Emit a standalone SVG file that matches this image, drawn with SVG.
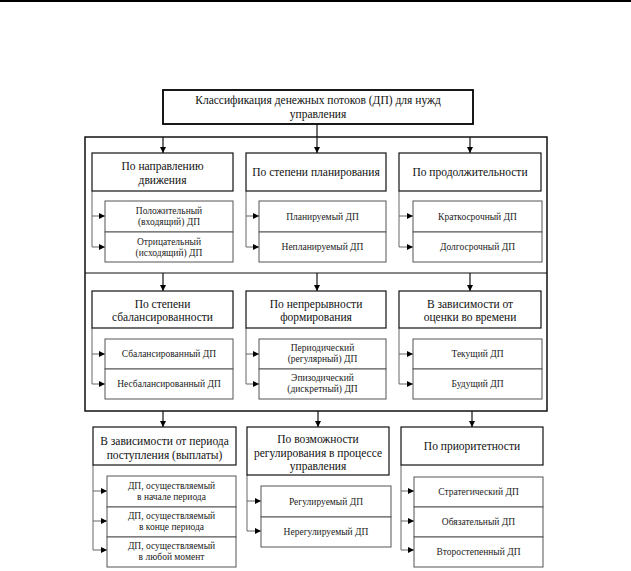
<svg xmlns="http://www.w3.org/2000/svg" width="631" height="571" viewBox="0 0 631 571" font-family="'Liberation Serif', 'Times New Roman', 'DejaVu Serif', serif">
<defs>
<marker id="ah" viewBox="0 0 6 6" refX="6" refY="3" markerWidth="6" markerHeight="6" markerUnits="userSpaceOnUse" orient="auto">
<path d="M0,0 L6,3 L0,6 Z" fill="#000"/>
</marker>
</defs>
<style>
.main{fill:#fff;stroke:#111;stroke-width:1.2}
.sub{fill:#fff;stroke:#555;stroke-width:1}
.frame{fill:none;stroke:#111;stroke-width:1.5}
.bus{fill:none;stroke:#111;stroke-width:1.2}
.br{fill:none;stroke:#666;stroke-width:1}
text{font-family:'Liberation Serif','Times New Roman',serif}
.t{fill:#111;text-anchor:middle}
.tm{font-size:11.5px}
.ts{font-size:9.5px;fill:#222}
.tt{font-size:11.5px}
</style>
<rect width="631" height="571" fill="#fff"/>
<line x1="0" y1="1" x2="631" y2="1" stroke="#000" stroke-width="2"/>

<g id="title">
<rect x="163" y="90" width="310" height="34" fill="#fff" stroke="#000" stroke-width="1.8"/>
<text class="t tt" x="318" y="104">Классификация денежных потоков (ДП) для нужд</text>
<text class="t tt" x="318" y="118">управления</text>
</g>

<g id="connectors">
<rect class="frame" x="85" y="137" width="462" height="274"/>
<line class="bus" x1="85" y1="273" x2="547" y2="273"/>
<line class="bus" x1="317" y1="124" x2="317" y2="137"/>
<line class="bus" x1="163" y1="137" x2="163" y2="153" marker-end="url(#ah)"/>
<line class="bus" x1="317" y1="137" x2="317" y2="153" marker-end="url(#ah)"/>
<line class="bus" x1="470" y1="137" x2="470" y2="153" marker-end="url(#ah)"/>
<line class="bus" x1="163" y1="273" x2="163" y2="291" marker-end="url(#ah)"/>
<line class="bus" x1="317" y1="273" x2="317" y2="291" marker-end="url(#ah)"/>
<line class="bus" x1="470" y1="273" x2="470" y2="291" marker-end="url(#ah)"/>
<line class="bus" x1="163" y1="411" x2="163" y2="427" marker-end="url(#ah)"/>
<line class="bus" x1="318" y1="411" x2="318" y2="427" marker-end="url(#ah)"/>
<line class="bus" x1="472" y1="411" x2="472" y2="427" marker-end="url(#ah)"/>
<path class="br" d="M92,191 V247 H105" marker-end="url(#ah)"/>
<path class="br" d="M92,216 H105" marker-end="url(#ah)"/>
<path class="br" d="M246,191 V247 H259" marker-end="url(#ah)"/>
<path class="br" d="M246,216 H259" marker-end="url(#ah)"/>
<path class="br" d="M399,191 V247 H413" marker-end="url(#ah)"/>
<path class="br" d="M399,216 H413" marker-end="url(#ah)"/>
<path class="br" d="M92,328 V384 H105" marker-end="url(#ah)"/>
<path class="br" d="M92,354 H105" marker-end="url(#ah)"/>
<path class="br" d="M246,328 V384 H259" marker-end="url(#ah)"/>
<path class="br" d="M246,354 H259" marker-end="url(#ah)"/>
<path class="br" d="M399,328 V384 H413" marker-end="url(#ah)"/>
<path class="br" d="M399,354 H413" marker-end="url(#ah)"/>
<path class="br" d="M93,465 V550 H107" marker-end="url(#ah)"/>
<path class="br" d="M93,491 H107" marker-end="url(#ah)"/>
<path class="br" d="M93,521 H107" marker-end="url(#ah)"/>
<path class="br" d="M247,475 V531 H261" marker-end="url(#ah)"/>
<path class="br" d="M247,501 H261" marker-end="url(#ah)"/>
<path class="br" d="M401,465 V550 H414" marker-end="url(#ah)"/>
<path class="br" d="M401,491 H414" marker-end="url(#ah)"/>
<path class="br" d="M401,521 H414" marker-end="url(#ah)"/>
</g>

<g id="n-direction">
<rect class="main" x="92" y="153" width="141" height="38"/>
<text class="t tm" x="162.5" y="170">По направлению</text>
<text class="t tm" x="162.5" y="184">движения</text>
</g>
<g id="n-positive">
<rect class="sub" x="105" y="201" width="128" height="31"/>
<text class="t ts" x="169" y="214">Положительный</text>
<text class="t ts" x="169" y="225">(входящий) ДП</text>
</g>
<g id="n-negative">
<rect class="sub" x="105" y="232" width="128" height="30"/>
<text class="t ts" x="169" y="244.5">Отрицательный</text>
<text class="t ts" x="169" y="255.5">(исходящий) ДП</text>
</g>
<g id="n-planning">
<rect class="main" x="246" y="153" width="140" height="38"/>
<text class="t tm" x="316" y="176">По степени планирования</text>
</g>
<g id="n-planned">
<rect class="sub" x="259" y="201" width="127" height="31"/>
<text class="t ts" x="322.5" y="219.5">Планируемый ДП</text>
</g>
<g id="n-unplanned">
<rect class="sub" x="259" y="232" width="127" height="30"/>
<text class="t ts" x="322.5" y="250">Непланируемый ДП</text>
</g>
<g id="n-duration">
<rect class="main" x="399" y="153" width="142" height="38"/>
<text class="t tm" x="470" y="176">По продолжительности</text>
</g>
<g id="n-short">
<rect class="sub" x="413" y="201" width="129" height="31"/>
<text class="t ts" x="477.5" y="219.5">Краткосрочный ДП</text>
</g>
<g id="n-long">
<rect class="sub" x="413" y="232" width="129" height="30"/>
<text class="t ts" x="477.5" y="250">Долгосрочный ДП</text>
</g>

<g id="n-balance">
<rect class="main" x="92" y="291" width="141" height="37"/>
<text class="t tm" x="162.5" y="308">По степени</text>
<text class="t tm" x="162.5" y="321">сбалансированности</text>
</g>
<g id="n-balanced">
<rect class="sub" x="105" y="339" width="128" height="30"/>
<text class="t ts" x="169" y="357">Сбалансированный ДП</text>
</g>
<g id="n-unbalanced">
<rect class="sub" x="105" y="369" width="128" height="30"/>
<text class="t ts" x="169" y="387">Несбалансированный ДП</text>
</g>
<g id="n-continuity">
<rect class="main" x="246" y="291" width="140" height="37"/>
<text class="t tm" x="316" y="308">По непрерывности</text>
<text class="t tm" x="316" y="321">формирования</text>
</g>
<g id="n-periodic">
<rect class="sub" x="259" y="339" width="127" height="30"/>
<text class="t ts" x="322.5" y="351">Периодический</text>
<text class="t ts" x="322.5" y="362">(регулярный) ДП</text>
</g>
<g id="n-episodic">
<rect class="sub" x="259" y="369" width="127" height="30"/>
<text class="t ts" x="322.5" y="381">Эпизодический</text>
<text class="t ts" x="322.5" y="392">(дискретный) ДП</text>
</g>
<g id="n-time">
<rect class="main" x="399" y="291" width="142" height="37"/>
<text class="t tm" x="470" y="308">В зависимости от</text>
<text class="t tm" x="470" y="321">оценки во времени</text>
</g>
<g id="n-current">
<rect class="sub" x="413" y="339" width="129" height="30"/>
<text class="t ts" x="477.5" y="357">Текущий ДП</text>
</g>
<g id="n-future">
<rect class="sub" x="413" y="369" width="129" height="30"/>
<text class="t ts" x="477.5" y="387">Будущий ДП</text>
</g>

<g id="n-period">
<rect class="main" x="93" y="427" width="143" height="38"/>
<text class="t tm" x="164.5" y="445">В зависимости от периода</text>
<text class="t tm" x="164.5" y="458.5">поступления (выплаты)</text>
</g>
<g id="n-begin">
<rect class="sub" x="107" y="476" width="129" height="31"/>
<text class="t ts" x="171.5" y="488.5">ДП, осуществляемый</text>
<text class="t ts" x="171.5" y="499.5">в начале периода</text>
</g>
<g id="n-end">
<rect class="sub" x="107" y="507" width="129" height="30"/>
<text class="t ts" x="171.5" y="519">ДП, осуществляемый</text>
<text class="t ts" x="171.5" y="530">в конце периода</text>
</g>
<g id="n-any">
<rect class="sub" x="107" y="537" width="129" height="30"/>
<text class="t ts" x="171.5" y="549">ДП, осуществляемый</text>
<text class="t ts" x="171.5" y="560">в любой момент</text>
</g>
<g id="n-regulation">
<rect class="main" x="247" y="427" width="142" height="48"/>
<text class="t tm" x="318" y="443">По возможности</text>
<text class="t tm" x="318" y="457">регулирования в процессе</text>
<text class="t tm" x="318" y="470">управления</text>
</g>
<g id="n-regulated">
<rect class="sub" x="261" y="486" width="130" height="31"/>
<text class="t ts" x="326" y="504.5">Регулируемый ДП</text>
</g>
<g id="n-unregulated">
<rect class="sub" x="261" y="517" width="130" height="30"/>
<text class="t ts" x="326" y="535">Нерегулируемый ДП</text>
</g>
<g id="n-priority">
<rect class="main" x="401" y="427" width="142" height="38"/>
<text class="t tm" x="472" y="450">По приоритетности</text>
</g>
<g id="n-strategic">
<rect class="sub" x="414" y="477" width="129" height="30"/>
<text class="t ts" x="478.5" y="495">Стратегический ДП</text>
</g>
<g id="n-mandatory">
<rect class="sub" x="414" y="507" width="129" height="30"/>
<text class="t ts" x="478.5" y="525">Обязательный ДП</text>
</g>
<g id="n-secondary">
<rect class="sub" x="414" y="537" width="129" height="30"/>
<text class="t ts" x="478.5" y="555">Второстепенный ДП</text>
</g>
</svg>
